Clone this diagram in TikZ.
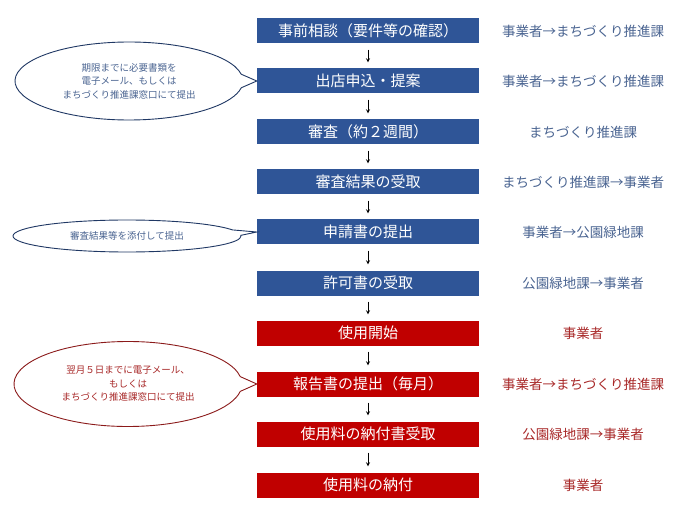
\documentclass[tikz,border=0pt]{standalone}
\usepackage{fontspec}
\setmainfont{Noto Sans CJK JP}
\usetikzlibrary{shapes.callouts}

\definecolor{boxblue}{HTML}{2F5597}
\definecolor{boxred}{HTML}{C00000}
\definecolor{textblue}{HTML}{4A6491}
\definecolor{textred}{HTML}{A82828}
\definecolor{lineblue}{HTML}{203864}
\definecolor{linered}{HTML}{8B1A1A}

\tikzset{
  stepbox/.style={rectangle, minimum width=222pt, minimum height=25pt, inner sep=0pt,
    text=white, font=\fontsize{15}{18}\selectfont},
  who/.style={font=\fontsize{13.5}{16}\selectfont},
  memo/.style={ellipse callout, fill=white, line width=0.9pt, align=center, inner sep=0pt,
    minimum width=228pt, callout pointer arc=20, font=\fontsize{9.5}{13.5}\selectfont}
}

\begin{document}
\begin{tikzpicture}[x=1pt,y=-1pt]
        \useasboundingbox (0,0) rectangle (690,521);
        % steps on the council side
        \foreach \i/\y/\t/\r in {1/31/事前相談（要件等の確認）/事業者→まちづくり推進課,
                                 2/81/出店申込・提案/事業者→まちづくり推進課,
                                 3/132/審査（約２週間）/まちづくり推進課,
                                 4/182/審査結果の受取/まちづくり推進課→事業者,
                                 5/232/申請書の提出/事業者→公園緑地課,
                                 6/283/許可書の受取/公園緑地課→事業者}{
            \node[stepbox, fill=boxblue] (s\i) at (368,\y) {\t};
            \node[who, text=textblue] (r\i) at (583,\y) {\r};
        }
        % steps after the permit
        \foreach \i/\y/\t/\r in {7/333/使用開始/事業者,
                                 8/384/報告書の提出（毎月）/事業者→まちづくり推進課,
                                 9/434/使用料の納付書受取/公園緑地課→事業者,
                                 10/485/使用料の納付/事業者}{
            \node[stepbox, fill=boxred] (s\i) at (368,\y) {\t};
            \node[who, text=textred] (r\i) at (583,\y) {\r};
        }
        \foreach \i [evaluate=\i as \j using int(\i+1)] in {1,...,9}
            \draw[->, >=stealth, line width=0.8pt, shorten <=6pt, shorten >=6pt] (s\i) -- (s\j);
        % notes
        \node[memo, draw=lineblue, text=textblue, minimum height=78pt,
              callout absolute pointer={(s2.west)}] (c1) at (129,81)
              {期限までに必要書類を\\電子メール、もしくは\\まちづくり推進課窓口にて提出};
        \node[memo, draw=lineblue, text=textblue, minimum height=32pt,
              callout absolute pointer={(s5.west)}] (c2) at (127,236)
              {審査結果等を添付して提出};
        \node[memo, draw=linered, text=textred, minimum height=85pt,
              callout absolute pointer={(s8.west)}] (c3) at (128,384)
              {翌月５日までに電子メール、\\もしくは\\まちづくり推進課窓口にて提出};
    \end{tikzpicture}
\end{document}
